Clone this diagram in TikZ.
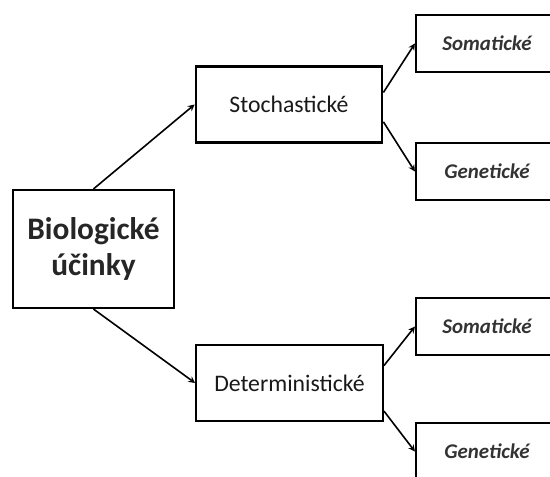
\documentclass[tikz,border=0pt]{standalone}
\usepackage{fontspec}
\setmainfont{Carlito}
\usepackage{tikz}
\usetikzlibrary{arrows}
\tikzstyle{root} = [rectangle, minimum width=120.75pt, minimum height=88.5pt, text centered, align=center, draw=black, line width=1.6pt, font=\fontsize{23.5}{26.5}\selectfont\bfseries, text=black!85]
\tikzstyle{branch} = [rectangle, minimum width=140pt, minimum height=57pt, text centered, draw=black, line width=1.6pt, font=\fontsize{17.8}{20}\selectfont, text=black!90]
\tikzstyle{leaf} = [rectangle, minimum width=106.5pt, minimum height=42.75pt, text centered, draw=black, line width=1.6pt, font=\fontsize{15.7}{18}\selectfont\bfseries\itshape, text=black!80]
\tikzstyle{arrow} = [line width=1.2pt,->,>=stealth]

\begin{document}
\begin{tikzpicture}[x=0.75pt, y=-0.75pt]
                \useasboundingbox (0,0) rectangle (550,477);
                \clip (0,0) rectangle (550,477);
                \node (bio) [root] at (93.5,249) {Biologické\\účinky};
                \node (stoch) [branch] at (289,104.5) {Stochastické};
                \node (det) [branch] at (289.5,383) {Deterministické};
                \node (som1) [leaf] at (487,43.5) {Somatické};
                \node (gen1) [leaf] at (487,171.5) {Genetické};
                \node (som2) [leaf] at (487,326.5) {Somatické};
                \node (gen2) [leaf] at (487,451.5) {Genetické};
                \draw [arrow] (bio.north) -- (stoch.west);
                \draw [arrow] (bio.south) -- (det.west);
                \draw [arrow] ([yshift=9pt]stoch.east) -- (som1.west);
                \draw [arrow] ([yshift=-13pt]stoch.east) -- (gen1.west);
                \draw [arrow] ([yshift=13pt]det.east) -- (som2.west);
                \draw [arrow] ([yshift=-21pt]det.east) -- (gen2.west);
            \end{tikzpicture}
\end{document}
